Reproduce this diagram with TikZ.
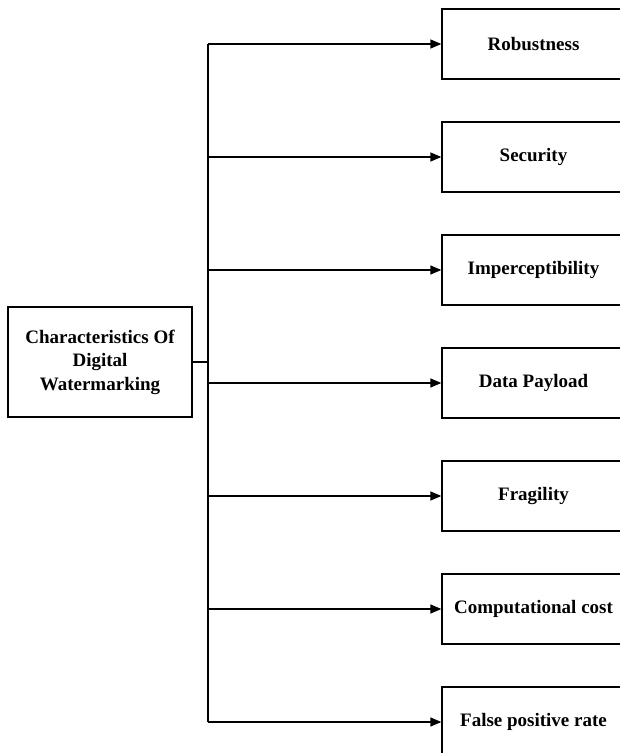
\documentclass[tikz,border=0pt]{standalone}
\usepackage{fontspec}
\setmainfont{Liberation Serif}
\usetikzlibrary{arrows.meta}
\begin{document}
\begin{tikzpicture}[x=1pt,y=1pt,
  box/.style={draw=black,line width=1.3pt,inner sep=0pt,font=\bfseries\fontsize{19}{23.5}\selectfont,align=center},
  item/.style={box,minimum width=183pt,minimum height=70pt},
  conn/.style={line width=1.3pt},
  arr/.style={conn,-{Triangle[length=11pt,width=9pt]}}]
\useasboundingbox (0,0) rectangle (620,-753);
\clip (0,0) rectangle (620,-753);
\node[box,minimum width=184pt,minimum height=110pt] (main) at (100,-362) {Characteristics Of\\Digital\\Watermarking};
\coordinate (j) at (208,-362);
\coordinate (t1) at (208,-44);
\coordinate (t7) at (208,-722);
\node[item] (b1) at (533.5,-44) {Robustness};
\node[item] (b2) at (533.5,-157) {Security};
\node[item] (b3) at (533.5,-270) {Imperceptibility};
\node[item] (b4) at (533.5,-383) {Data Payload};
\node[item] (b5) at (533.5,-496) {Fragility};
\node[item] (b6) at (533.5,-609) {Computational cost};
\node[item] (b7) at (533.5,-722) {False positive rate};
\draw[conn] (main.east) -- (j);
\draw[conn] (t1) -- (t7);
\foreach \i in {1,...,7} {
  \draw[arr] (208,0 |- b\i.west) -- (b\i.west);
}
\end{tikzpicture}
\end{document}
